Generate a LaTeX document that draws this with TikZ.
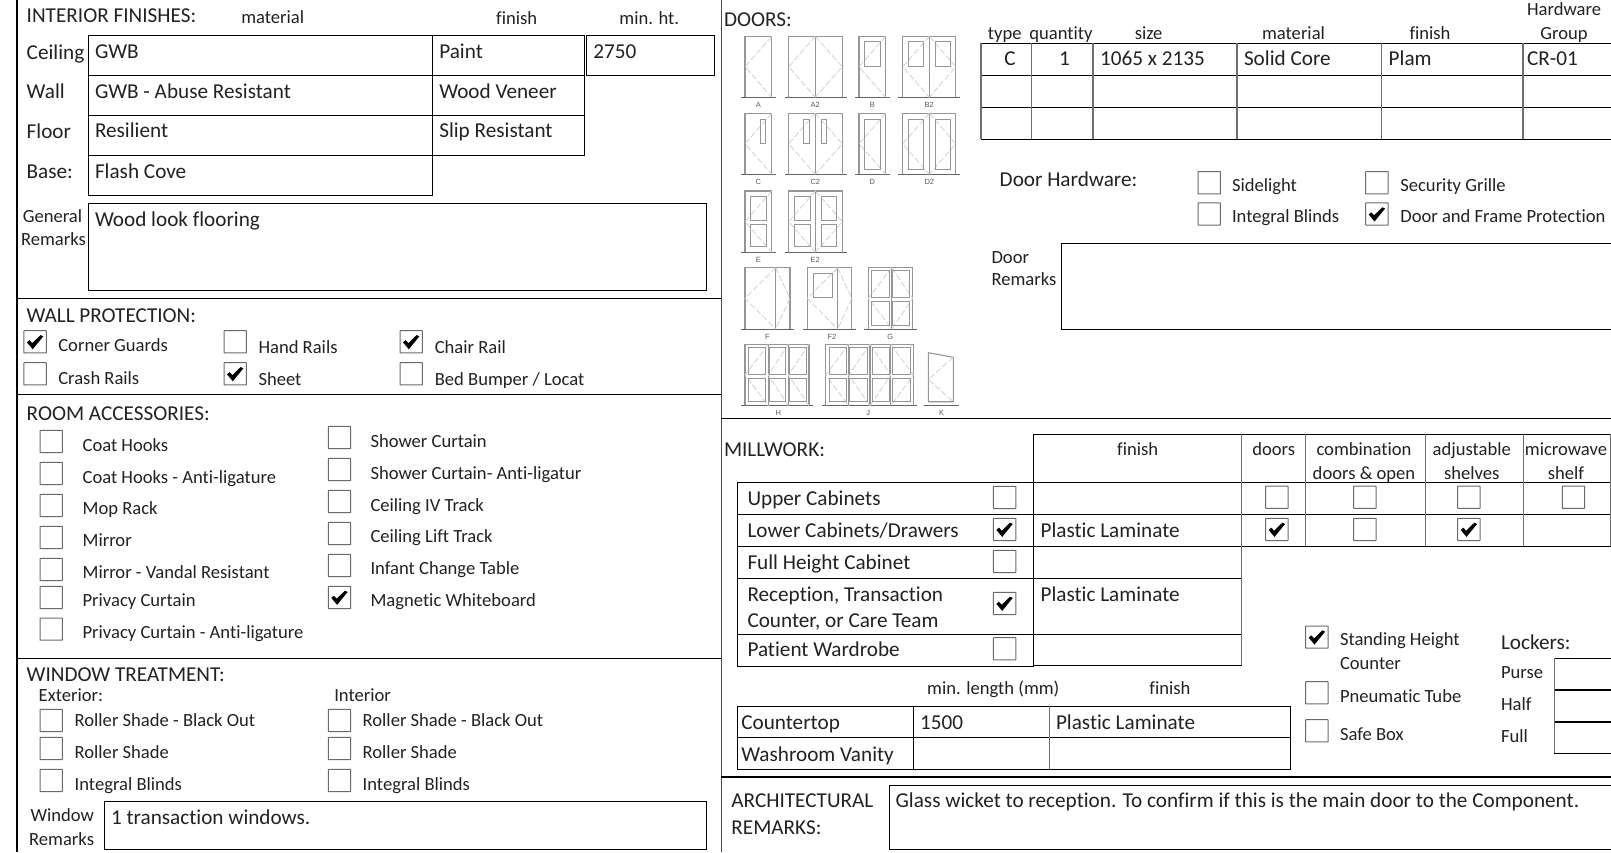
\documentclass[tikz,border=0pt]{standalone}
\usepackage{fontspec}
\setmainfont{Carlito}[Ligatures=NoCommon]
\newfontfamily\doorfont{Liberation Sans}
\definecolor{ink}{HTML}{222222}
\definecolor{boxgray}{HTML}{6A6A6A}
\definecolor{vgray}{HTML}{6E6E6E}
\definecolor{doorline}{HTML}{969696}
\definecolor{doordash}{HTML}{D0D0D0}
\newcounter{nid}
\tikzset{
  txt/.style={anchor=base west,inner sep=0pt,outer sep=0pt,text=ink,font=\fontsize{21.2}{25}\selectfont},
  small/.style={font=\fontsize{18.6}{22}\selectfont},
  ctr/.style={anchor=base},
  rgt/.style={anchor=base east},
  rule/.style={draw=black,line width=1pt},
  vrule/.style={draw=vgray,line width=1.3pt},
  sect/.style={draw=black,line width=1.2pt},
  border/.style={draw=black,line width=2.3pt},
  midborder/.style={draw=black!70,line width=1.4pt},
  cbox/.style={draw=boxgray,line width=1pt,fill=white,rounded corners=0.4pt},
  tick/.style={fill=black,draw=none},
  frameline/.style={draw=doorline,line width=1.1pt},
  floorline/.style={draw=black!60,line width=0.9pt},
  swing/.style={draw=doordash,line width=0.8pt,dash pattern=on 6pt off 2.5pt},
  pane/.style={draw=doorline,line width=1pt},
  doorlabel/.style={anchor=base,inner sep=0pt,text=black!65,font=\doorfont\fontsize{7.5}{9}\selectfont}
}
% text
\newcommand{\TX}[4][]{\stepcounter{nid}\node[txt,#1] (n\arabic{nid}) at (#2,#3) {#4};}
% checkbox, top-left corner
\newcommand{\CB}[2]{\draw[cbox] (#1,#2) rectangle ++(22.4,22.2);}
\newcommand{\CK}[2]{\CB{#1}{#2}\fill[tick,shift={(#1,#2)}] (3,11.6) -- (5.6,9.4) -- (8.4,12.4) -- (16.6,4.4) -- (19.4,5.6) -- (8.8,18.6) -- cycle;}
% door: frame x1 x2, top, floor, floor x1 x2
\newcommand{\DF}[6]{\draw[frameline] (#1,#4) -- (#1,#3) -- (#2,#3) -- (#2,#4);\draw[floorline] (#5,#4) -- (#6,#4);}
% leaf swing: hinge side x, free side x, top, bottom
\newcommand{\SW}[4]{\draw[swing] (#1,#3) -- (#2,{(#3+#4)/2}) -- (#1,#4);}
\newcommand{\PN}[4]{\draw[pane,fill=none] (#1,#3) rectangle (#2,#4);}
\newcommand{\MD}[3]{\draw[frameline] (#1,#2) -- (#1,#3);}
\newcommand{\DL}[3]{\stepcounter{nid}\node[doorlabel] (n\arabic{nid}) at (#1,#2) {#3};}
\begin{document}
\begin{tikzpicture}[x=1pt,y=-1pt]
\useasboundingbox (0,0) rectangle (1611,852);
\fill[white] (0,0) rectangle (1611,852);
% --- frame
\draw[border] (16.7,0) -- (16.7,852);
\draw[midborder] (721.3,0) -- (721.3,852);
\draw[sect] (16.7,298.3) -- (721.3,298.3);
\draw[sect] (16.7,394.3) -- (721.3,394.3);
\draw[sect] (16.7,658.3) -- (721.3,658.3);
\draw[sect] (721.3,418.3) -- (1611,418.3);
\draw[sect] (721.3,777) -- (1611,777);
% --- INTERIOR FINISHES
\TX{26.7}{22.3}{INTERIOR FINISHES:}
\TX[small]{241.3}{23.3}{material}
\TX[small,ctr]{516.7}{24}{finish}
\TX[small,ctr]{649.3}{24}{min. ht.}
\draw[rule] (88.3,35) rectangle (584.3,75.3);
\draw[rule] (88.3,75.3) rectangle (584.3,115.3);
\draw[rule] (88.3,115.3) rectangle (584.3,155.3);
\draw[rule] (88.3,155.3) rectangle (432.7,195.3);
\draw[rule] (432.7,35) -- (432.7,155.3);
\draw[rule] (586.7,35) rectangle (714.7,75.3);
\TX{26.7}{59.3}{Ceiling}
\TX{26.7}{98.3}{Wall}
\TX{26.7}{138.3}{Floor}
\TX{26.7}{178.3}{Base:}
\TX{95}{58.3}{GWB}
\TX{95}{98.3}{GWB - Abuse Resistant}
\TX{95}{137.7}{Resilient}
\TX{95}{178.3}{Flash Cove}
\TX{439.3}{58.3}{Paint}
\TX{439.3}{98.3}{Wood Veneer}
\TX{439.3}{137.7}{Slip Resistant}
\TX{593.3}{58.3}{2750}
\TX[small,ctr]{52.5}{222.3}{General}
\TX[small,ctr]{53.5}{245.7}{Remarks}
\draw[rule] (88.3,203.3) rectangle (706,290.3);
\TX{95}{226.7}{Wood look flooring}
% --- WALL PROTECTION
\TX{26.7}{322.3}{WALL PROTECTION:}
\CK{23.9}{330.7}\TX[small]{58.3}{351}{Corner Guards}
\CB{224}{330.7}\TX[small]{258.5}{353}{Hand Rails}
\CK{400}{330.7}\TX[small]{434.8}{353}{Chair Rail}
\CB{23.9}{362.7}\TX[small]{58.3}{384.3}{Crash Rails}
\CK{224}{362.7}\TX[small]{258.5}{385}{Sheet}
\CB{400}{362.7}\TX[small]{434.8}{385}{Bed Bumper / Locat}
% --- ROOM ACCESSORIES
\TX{26.7}{420.7}{ROOM ACCESSORIES:}
\CB{40}{430.3}\TX[small]{82.6}{451.3}{Coat Hooks}
\CB{40}{462.3}\TX[small]{82.6}{483.3}{Coat Hooks - Anti-ligature}
\CB{40}{494.3}\TX[small]{82.6}{514.3}{Mop Rack}
\CB{40}{526.3}\TX[small]{82.6}{546}{Mirror}
\CB{40}{558.3}\TX[small]{82.6}{578}{Mirror - Vandal Resistant}
\CB{40}{586.3}\TX[small]{82.6}{606}{Privacy Curtain}
\CB{40}{618}\TX[small]{82.6}{638}{Privacy Curtain - Anti-ligature}
\CB{328.3}{426.3}\TX[small]{370.5}{447.3}{Shower Curtain}
\CB{328.3}{458.3}\TX[small]{370.5}{479.3}{Shower Curtain- Anti-ligatur}
\CB{328.3}{490.3}\TX[small]{370.5}{511.3}{Ceiling IV Track}
\CB{328.3}{522.3}\TX[small]{370.5}{542.3}{Ceiling Lift Track}
\CB{328.3}{554.3}\TX[small]{370.5}{574.3}{Infant Change Table}
\CK{328.3}{586.3}\TX[small]{370.5}{606}{Magnetic Whiteboard}
% --- WINDOW TREATMENT
\TX{26.7}{681}{WINDOW TREATMENT:}
\TX[small]{38.7}{701.7}{Exterior:}
\TX[small]{334.3}{701.7}{Interior}
\CB{40}{709.3}\TX[small]{74.7}{726}{Roller Shade - Black Out}
\CB{40}{737.3}\TX[small]{74.7}{758}{Roller Shade}
\CB{40}{769.3}\TX[small]{74.7}{790}{Integral Blinds}
\CB{328.3}{709.3}\TX[small]{362.7}{726}{Roller Shade - Black Out}
\CB{328.3}{737.3}\TX[small]{362.7}{758}{Roller Shade}
\CB{328.3}{769.3}\TX[small]{362.7}{790}{Integral Blinds}
\TX[small,rgt]{94}{821.7}{Window}
\TX[small,rgt]{94}{845}{Remarks}
\draw[rule] (104.7,801.3) rectangle (706,849.3);
\TX{111}{824}{1 transaction windows.}
% --- DOORS
\TX{724}{26}{DOORS:}
% row 1
\DF{745}{771.7}{36.3}{97.3}{741}{775.7}\SW{771.7}{745}{36.3}{97.3}\DL{758.3}{107}{A}
\DF{788.7}{842.3}{36.3}{97.3}{785}{846.7}\MD{815.3}{36.3}{97.3}\SW{815.3}{788.7}{36.3}{97.3}\SW{815.3}{842.3}{36.3}{97.3}\DL{815.3}{107}{A2}
\DF{859}{885.7}{36.3}{97.3}{855}{890}\SW{885.7}{859}{36.3}{97.3}\PN{864.7}{880}{41.7}{66}\DL{872.3}{107}{B}
\DF{902.7}{955.7}{36.3}{97.3}{898.3}{960}\MD{929.3}{36.3}{97.3}\SW{929.3}{902.7}{36.3}{97.3}\SW{929.3}{955.7}{36.3}{97.3}\PN{908.3}{923.7}{41.7}{66}\PN{935}{950.3}{41.7}{66}\DL{929.3}{107}{B2}
% row 2
\DF{745}{771.7}{113.3}{174.3}{741}{775.7}\SW{771.7}{745}{113.3}{174.3}\PN{760}{765.3}{119}{143.3}\DL{758.3}{184}{C}
\DF{788.7}{842.3}{113.3}{174.3}{785}{846.7}\MD{815.3}{113.3}{174.3}\SW{815.3}{788.7}{113.3}{174.3}\SW{815.3}{842.3}{113.3}{174.3}\PN{803.7}{809.3}{119}{143.3}\PN{821.3}{826.7}{119}{143.3}\DL{815.3}{184}{C2}
\DF{859}{885.7}{113.3}{174.3}{855}{890}\SW{885.7}{859}{113.3}{174.3}\PN{864.7}{880}{119}{169}\DL{872.3}{184}{D}
\DF{902.7}{955.7}{113.3}{174.3}{898.3}{960}\MD{929.3}{113.3}{174.3}\SW{929.3}{902.7}{113.3}{174.3}\SW{929.3}{955.7}{113.3}{174.3}\PN{908.3}{923.7}{119}{169}\PN{935}{950.3}{119}{169}\DL{929.3}{184}{D2}
% row 3
\DF{745}{771.7}{191}{252.3}{741}{775.7}\SW{771.7}{745}{191}{252.3}\PN{750.7}{766}{196.7}{220.7}\PN{750.7}{766}{224.3}{246.7}\DL{758.3}{262.3}{E}
\DF{788.7}{842.3}{191}{252.3}{785}{846.7}\MD{815.3}{191}{252.3}\SW{815.3}{788.7}{191}{252.3}\SW{815.3}{842.3}{191}{252.3}\PN{794.3}{810}{196.7}{220.7}\PN{794.3}{810}{224.3}{246.7}\PN{821}{836.7}{196.7}{220.7}\PN{821}{836.7}{224.3}{246.7}\DL{815.3}{262.3}{E2}
% row 4
\DF{745}{790}{267.7}{329}{741}{794}\MD{775.7}{267.7}{329}\SW{775.7}{745}{267.7}{329}\SW{775.7}{790}{267.7}{329}\DL{767.3}{339}{F}
\DF{807.3}{851.7}{267.7}{329}{803.3}{855.7}\MD{837.7}{267.7}{329}\SW{837.7}{807.3}{267.7}{329}\SW{837.7}{851.7}{267.7}{329}\PN{813}{832}{273.3}{297.7}\DL{832}{339}{F2}
\DF{868.3}{912.7}{267.7}{329}{864}{916.7}\MD{891.7}{267.7}{329}\SW{891.7}{868.3}{267.7}{329}\SW{891.7}{912.7}{267.7}{329}\PN{871.7}{889}{270.7}{297.7}\PN{871.7}{889}{301.7}{325}\PN{892.3}{909.3}{270.7}{297.7}\PN{892.3}{909.3}{301.7}{325}\DL{890.3}{339}{G}
% row 5
\DF{745}{809}{344.3}{405.7}{741}{813.3}\MD{768.3}{344.3}{405.7}\MD{788.3}{344.3}{405.7}\SW{768.3}{745}{344.3}{405.7}\SW{788.3}{768.3}{344.3}{405.7}\SW{809}{788.3}{344.3}{405.7}\PN{748.3}{765.7}{347.7}{374}\PN{748.3}{765.7}{378.3}{401}\PN{769}{785.7}{347.7}{374}\PN{769}{785.7}{378.3}{401}\PN{789}{806}{347.7}{374}\PN{789}{806}{378.3}{401}\DL{778.3}{415}{H}
\DF{825.7}{913.3}{344.3}{405.7}{821.7}{917.3}\MD{848.7}{344.3}{405.7}\MD{870}{344.3}{405.7}\MD{890.7}{344.3}{405.7}\SW{848.7}{825.7}{344.3}{405.7}\SW{870}{848.7}{344.3}{405.7}\SW{870}{890.7}{344.3}{405.7}\SW{890.7}{913.3}{344.3}{405.7}\PN{829}{846.7}{347.7}{374}\PN{829}{846.7}{378.3}{401}\PN{849.3}{867}{347.7}{374}\PN{849.3}{867}{378.3}{401}\PN{872.3}{889.3}{347.7}{374}\PN{872.3}{889.3}{378.3}{401}\PN{892.7}{910}{347.7}{374}\PN{892.7}{910}{378.3}{401}\DL{868.3}{415}{J}
\draw[frameline] (928.3,401.7) -- (928.3,352.7) -- (953.3,357.3) -- (953.3,401.7) -- cycle;
\draw[floorline] (924,405.7) -- (959.3,405.7);
\SW{953.3}{928.3}{357.3}{401.7}\DL{941.7}{415}{K}
% door table
\TX[small,ctr]{1004.8}{39}{type}
\TX[small,ctr]{1061}{39}{quantity}
\TX[small,ctr]{1148.6}{39}{size}
\TX[small,ctr]{1293.5}{39}{material}
\TX[small,ctr]{1430}{39}{finish}
\TX[small,ctr]{1564}{15.3}{Hardware}
\TX[small,ctr]{1564}{39}{Group}
\foreach \yy in {43.3,75.3,107.3,139.3} {\draw[rule] (981,\yy) -- (1611,\yy);}
\foreach \xx in {981,1031.5,1093,1237,1381.7,1523} {\draw[vrule] (\xx,43.3) -- (\xx,139.3);}
\TX[ctr]{1010}{65.7}{C}
\TX[ctr]{1064.4}{65.7}{1}
\TX{1100}{65.7}{1065 x 2135}
\TX{1244}{65.7}{Solid Core}
\TX{1388.7}{65.7}{Plam}
\TX{1527}{65.7}{CR-01}
% door hardware
\TX{999.7}{186}{Door Hardware:}
\CB{1198}{171.6}\TX[small]{1232}{191}{Sidelight}
\CB{1198}{202.9}\TX[small]{1232}{222.7}{Integral Blinds}
\CB{1365.7}{171.6}\TX[small]{1400.3}{191}{Security Grille}
\CK{1365.7}{202.9}\TX[small]{1400.3}{222.7}{Door and Frame Protection}
\TX[small]{991.5}{263}{Door}
\TX[small]{991.5}{285.6}{Remarks}
\draw[rule] (1611,243.5) -- (1061.3,243.5) -- (1061.3,329.8) -- (1611,329.8);
% --- MILLWORK
\TX{724}{456.7}{MILLWORK:}
\TX[small,ctr]{1137.7}{455}{finish}
\TX[small,ctr]{1273.7}{455}{doors}
\TX[small,ctr]{1364}{455}{combination}
\TX[small,ctr]{1364}{479}{doors \& open}
\TX[small,ctr]{1471.7}{455}{adjustable}
\TX[small,ctr]{1471.7}{479}{shelves}
\TX[small,ctr]{1566}{455}{microwave}
\TX[small,ctr]{1566}{479}{shelf}
\draw[rule] (1033.7,434.3) -- (1610.7,434.3);
\draw[rule] (737,482.3) -- (1610.7,482.3);
\draw[rule] (737,514.3) -- (1610.7,514.3);
\draw[rule] (737,546.3) -- (1610.7,546.3);
\draw[rule] (737,578.3) -- (1241.7,578.3);
\draw[rule] (737,634.3) -- (1241.7,634.3);
\draw[rule] (737,666.3) -- (1033.7,666.3);
\draw[rule] (1033.7,665.3) -- (1241.7,665.3);
\draw[rule] (737,482.3) -- (737,666.3);
\draw[rule] (1033.7,434.3) -- (1033.7,666.3);
\draw[vrule] (1241.7,434.3) -- (1241.7,665.3);
\foreach \xx in {1305.7,1425.7,1523.3,1610.7} {\draw[vrule] (\xx,434.3) -- (\xx,546.3);}
\TX{747.5}{505}{Upper Cabinets}
\TX{747.5}{537}{Lower Cabinets/Drawers}
\TX{747.5}{569}{Full Height Cabinet}
\TX{747.5}{601}{Reception, Transaction}
\TX{747.5}{627}{Counter, or Care Team}
\TX{747.5}{656.7}{Patient Wardrobe}
\CB{993.4}{486.3}
\CK{993.4}{518.3}
\CB{993.4}{550.3}
\CK{993.4}{592.3}
\CB{993.4}{637.7}
\TX{1040.6}{537}{Plastic Laminate}
\TX{1040.6}{601}{Plastic Laminate}
\CB{1265.7}{486.2}\CK{1265.7}{518.3}
\CB{1353.7}{486.2}\CB{1353.7}{518.3}
\CB{1457.7}{486.2}\CK{1457.7}{518.3}
\CB{1562.3}{486.2}
% countertop
\TX[small,ctr]{993.3}{694}{min. length (mm)}
\TX[small,ctr]{1170}{694}{finish}
\draw[rule] (737,706.3) rectangle (1290,769);
\draw[rule] (737,737.3) -- (1290,737.3);
\draw[rule] (913.5,706.3) -- (913.5,769);
\draw[vrule] (1049.5,706.3) -- (1049.5,769);
\TX{741.3}{729}{Countertop}
\TX{741.3}{761}{Washroom Vanity}
\TX{920}{729}{1500}
\TX{1056}{729}{Plastic Laminate}
% counters
\CK{1305.7}{626}\TX[small]{1340}{645.7}{Standing Height}
\TX[small]{1340}{669.3}{Counter}
\CB{1305.7}{681.7}\TX[small]{1340}{702}{Pneumatic Tube}
\CB{1305.7}{719.7}\TX[small]{1340}{740}{Safe Box}
% lockers
\TX{1501}{649}{Lockers:}
\TX[small]{1501}{678.3}{Purse}
\TX[small]{1501}{710}{Half}
\TX[small]{1501}{742.3}{Full}
\draw[rule] (1611,658.3) -- (1554.3,658.3);
\draw[rule,line width=1.6pt] (1611,689.7) -- (1554.3,689.7);
\draw[rule,line width=1.6pt] (1611,722) -- (1554.3,722);
\draw[rule] (1611,753.3) -- (1554.3,753.3);
\draw[vrule] (1554.3,658.3) -- (1554.3,753.3);
% --- ARCHITECTURAL REMARKS
\TX{731.4}{807.7}{ARCHITECTURAL}
\TX{731.4}{834}{REMARKS:}
\draw[rule] (1611,785) -- (889.8,785) -- (889.8,849) -- (1611,849);
\TX{895.6}{807.7}{Glass wicket to reception. To confirm if this is the main door to the Component.}
\end{tikzpicture}
\end{document}
